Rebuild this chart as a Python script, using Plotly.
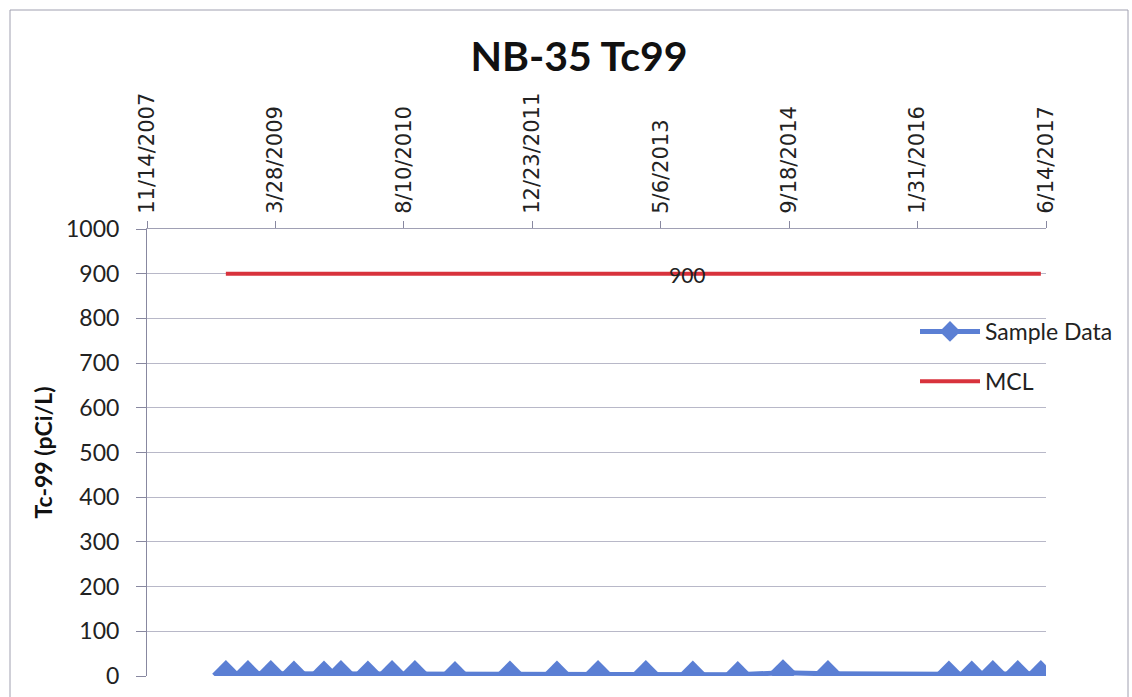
import plotly.graph_objects as go

sample_dates = ["2008-09-16", "2008-12-11", "2009-03-10", "2009-06-08", "2009-10-03",
                "2009-12-08", "2010-03-23", "2010-06-25", "2010-09-22", "2011-02-25",
                "2011-09-27", "2012-03-28", "2012-09-04", "2013-03-09", "2013-09-08",
                "2014-03-02", "2014-08-25", "2015-02-16", "2016-06-01", "2016-08-29",
                "2016-11-19", "2017-02-24", "2017-05-25"]
sample_values = [5, 5, 5, 4, 4, 5, 4, 5, 5, 3, 4, 4, 5, 5, 4, 3, 7, 5, 4, 4, 5, 5, 5]
mcl_values = [900] * len(sample_dates)
tick_dates = ["2007-11-14", "2009-03-28", "2010-08-10", "2011-12-23",
              "2013-05-06", "2014-09-18", "2016-01-31", "2017-06-14"]
tick_labels = ["11/14/2007", "3/28/2009", "8/10/2010", "12/23/2011",
               "5/6/2013", "9/18/2014", "1/31/2016", "6/14/2017"]
label_index = 14

blue = "#5B7FD4"
red = "#D8323C"
FONT = "Lato, Open Sans, sans-serif"

W, H = 1132, 697
L, R, T, B = 147, 1046, 229, 676  # plot area in px
pw, ph = R - L, B - T

fig = go.Figure()
fig.add_trace(go.Scatter(x=sample_dates, y=sample_values, name="Sample Data",
                         legendgroup="a", mode="lines+markers",
                         line=dict(color=blue, width=5),
                         marker=dict(symbol="diamond", size=21, color=blue)))
fig.add_trace(go.Scatter(x=sample_dates, y=mcl_values, name="MCL", legendgroup="b",
                         mode="lines", line=dict(color=red, width=4)))

fig.add_annotation(x=sample_dates[label_index], y=mcl_values[label_index],
                   text=str(mcl_values[label_index]), showarrow=False,
                   xanchor="center", yanchor="middle", xshift=-5, yshift=-1,
                   font=dict(family=FONT, size=21, color="#222"))

fig.add_shape(type="rect", xref="paper", yref="paper",
              x0=(10 - L) / pw, x1=(1128 - L) / pw, y0=(B - 740) / ph, y1=(B - 10) / ph,
              line=dict(color="#a0a0b0", width=1), fillcolor="rgba(0,0,0,0)", layer="below")

fig.update_layout(
    width=W, height=H,
    margin=dict(l=L, r=W - R, t=T, b=H - B, pad=0),
    paper_bgcolor="white", plot_bgcolor="white",
    title=dict(text="<b>NB-35 Tc99</b>", x=579 / W, xanchor="center",
               y=1 - 57 / H, yanchor="middle",
               font=dict(family=FONT, size=41, color="#111")),
    xaxis=dict(side="top", type="date", range=[tick_dates[0], tick_dates[-1]],
               tickvals=tick_dates, ticktext=tick_labels, tickangle=-90, automargin=False,
               ticks="outside", ticklen=7, tickcolor="#8888a0", ticklabelstandoff=3,
               showgrid=False, showline=True, linecolor="#a0a0b4", zeroline=False,
               tickfont=dict(family="DejaVu Sans, Verdana, sans-serif", size=21, color="#222")),
    yaxis=dict(range=[0, 1000], dtick=100, ticks="outside", ticklen=10, tickcolor="#8888a0",
               ticklabelstandoff=12, automargin=False,
               showgrid=True, gridcolor="#b8b8c8", gridwidth=1,
               showline=True, linecolor="#8888a0", zeroline=False,
               tickfont=dict(family=FONT, size=23, color="#222"),
               title=dict(text="<b>Tc-99 (pCi/L)</b>", standoff=6,
                          font=dict(family=FONT, size=23, color="#111"))),
    legend=dict(x=(915 - L) / pw, y=(B - 310) / ph, xanchor="left", yanchor="top",
                bgcolor="rgba(0,0,0,0)", traceorder="grouped", tracegroupgap=17,
                itemwidth=60,
                font=dict(family=FONT, size=23, color="#222")),
    showlegend=True,
)

fig.write_html("out.html", config={"displayModeBar": False},
               post_script="document.body.style.margin='0';document.body.style.overflow='hidden';")
